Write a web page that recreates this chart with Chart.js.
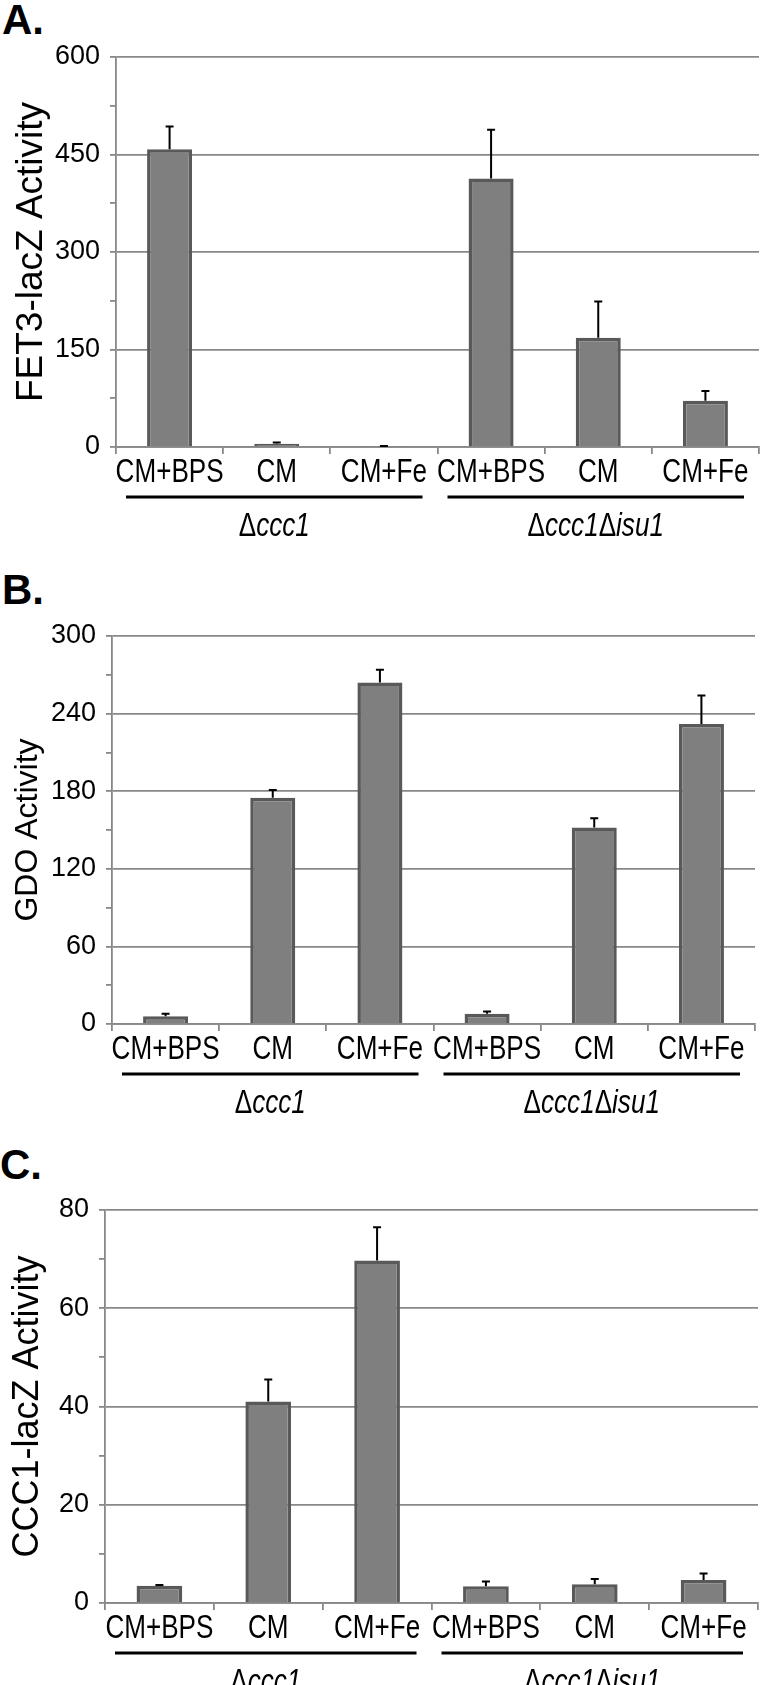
<!DOCTYPE html>
<html>
<head>
<meta charset="utf-8">
<script src="https://cdn.jsdelivr.net/npm/chart.js@4.4.1/dist/chart.umd.min.js"></script>
<style>
  body { margin: 0; background: #fff; }
  #wrap { position: relative; width: 760px; height: 1685px; overflow: hidden; }
  canvas { position: absolute; left: 0; }
  .letter { position: absolute; font: bold 42px "Liberation Sans", Arial, sans-serif; line-height: 1; color: #000; }
</style>
</head>
<body>
<div id="wrap">
  <div class="letter" style="left:2px; top:-1px">A.</div>
  <div class="letter" style="left:2px; top:569px">B.</div>
  <div class="letter" style="left:0px; top:1144px">C.</div>
  <canvas id="chartA" width="760" height="565" style="top:0px"></canvas>
  <canvas id="chartB" width="760" height="575" style="top:565px"></canvas>
  <canvas id="chartC" width="760" height="545" style="top:1140px"></canvas>
</div>
<script>
// categories and strain groups (3 conditions each)
const categories = ['CM+BPS', 'CM', 'CM+Fe', 'CM+BPS', 'CM', 'CM+Fe'];
const groupLabels = ['Δccc1', 'Δccc1Δisu1'];

// A. FET3-lacZ
const fet3Values = [458, 5, 1, 413, 168, 71];
const fet3Errors = [35, 2, 0.5, 75, 56, 15];
// B. GDO
const gdoValues = [6, 175, 264, 8, 152, 232];
const gdoErrors = [2, 6, 10, 1.6, 7, 22];
// C. CCC1-lacZ
const ccc1Values = [3.5, 41, 69.7, 3.4, 3.8, 4.7];
const ccc1Errors = [0.15, 4.5, 6.8, 1, 1.1, 1.3];

const SANS = '"Liberation Sans", Arial, sans-serif';
const SQUEEZE = 0.79; // labels in the figure are condensed

// error bars on top of each bar
const errorBars = {
  id: 'errorBars',
  afterDatasetsDraw(chart, args, opts) {
    const ctx = chart.ctx;
    const y = chart.scales.y;
    const meta = chart.getDatasetMeta(0);
    const vals = chart.data.datasets[0].data;
    ctx.save();
    ctx.strokeStyle = '#000';
    ctx.lineWidth = 2;
    meta.data.forEach((bar, i) => {
      const top = y.getPixelForValue(vals[i] + opts.errors[i]);
      const base = y.getPixelForValue(vals[i]);
      ctx.beginPath();
      ctx.moveTo(bar.x, base);
      ctx.lineTo(bar.x, top);
      ctx.moveTo(bar.x - 4, top);
      ctx.lineTo(bar.x + 4, top);
      ctx.stroke();
    });
    ctx.restore();
  }
};

function squeezedText(ctx, txt, x, y, font) {
  ctx.save();
  ctx.font = font;
  ctx.translate(x, y);
  ctx.scale(SQUEEZE, 1);
  ctx.fillText(txt, 0, 0);
  ctx.restore();
}

// condition labels, group underline and strain label (Δ upright, rest italic)
const groupPlugin = {
  id: 'groupLabels',
  afterDraw(chart) {
    const ctx = chart.ctx;
    const x = chart.scales.x;
    const base = chart.chartArea.bottom;
    const catW = x.getPixelForValue(1) - x.getPixelForValue(0);
    ctx.save();
    ctx.fillStyle = '#000';
    ctx.textBaseline = 'middle';
    ctx.textAlign = 'center';
    chart.data.labels.forEach((lab, i) => {
      squeezedText(ctx, lab, x.getPixelForValue(i), base + 26, '33px ' + SANS);
    });
    groupLabels.forEach((lab, g) => {
      const left = x.getPixelForValue(g * 3) - catW / 2;
      const right = x.getPixelForValue(g * 3 + 2) + catW / 2;
      ctx.strokeStyle = '#000';
      ctx.lineWidth = 3;
      ctx.beginPath();
      ctx.moveTo(left + 10, base + 50);
      ctx.lineTo(right - 15, base + 50);
      ctx.stroke();
      const parts = [];
      lab.split(/(Δ)/).filter(s => s).forEach(s => parts.push({ t: s, f: (s !== 'Δ' ? 'italic ' : '') + '33px ' + SANS }));
      let total = 0;
      parts.forEach(p => {
        ctx.font = p.f;
        p.w = ctx.measureText(p.t).width * SQUEEZE;
        total += p.w;
      });
      let cx = (left + 10 + right - 15) / 2 - total / 2;
      ctx.textAlign = 'left';
      parts.forEach(p => {
        squeezedText(ctx, p.t, cx, base + 80, p.f);
        cx += p.w;
      });
      ctx.textAlign = 'center';
    });
    ctx.restore();
  }
};

function makeChart(id, values, errors, opt) {
  return new Chart(document.getElementById(id), {
    type: 'bar',
    data: {
      labels: categories,
      datasets: [{
        data: values,
        backgroundColor: '#7f7f7f',
        borderColor: '#595959',
        borderWidth: 3.5,
        borderSkipped: 'bottom',
        categoryPercentage: 1,
        barPercentage: 0.42
      }]
    },
    options: {
      responsive: false,
      animation: false,
      devicePixelRatio: 1,
      layout: { padding: { top: opt.top, right: 760 - opt.right, left: 0, bottom: 0 } },
      plugins: {
        legend: { display: false },
        tooltip: { enabled: false },
        errorBars: { errors: errors }
      },
      scales: {
        x: {
          afterFit: s => { s.height = opt.xh; },
          grid: { drawOnChartArea: false, color: '#888', tickLength: 7, lineWidth: 1.8, offset: true },
          border: { color: '#888', width: 1.8 },
          ticks: { color: 'rgba(0,0,0,0)', font: { family: SANS, size: 20 }, padding: 1, autoSkip: false, maxRotation: 0 }
        },
        y: {
          min: 0,
          max: opt.max,
          afterFit: s => { s.width = opt.left; },
          grid: {
            color: c => (c.tick && Math.round(c.tick.value) % opt.major === 0) ? '#888' : 'rgba(0,0,0,0)',
            tickColor: '#888',
            tickLength: 6,
            lineWidth: 1.8
          },
          border: { color: '#888', width: 1.8 },
          ticks: {
            stepSize: opt.minor,
            color: '#000',
            padding: 10,
            font: { family: SANS, size: 27 },
            callback: v => (Math.round(v) % opt.major === 0 ? v : '')
          },
          title: {
            display: true,
            text: opt.title,
            color: '#000',
            font: { family: SANS, size: opt.titleSize },
            padding: { top: opt.titlePad, bottom: 0 }
          }
        }
      }
    },
    plugins: [errorBars, groupPlugin]
  });
}

makeChart('chartA', fet3Values, fet3Errors, {
  top: 57, right: 759, left: 116, xh: 118, max: 600, minor: 75, major: 150,
  title: 'FET3-lacZ Activity', titleSize: 37, titlePad: 10
});
makeChart('chartB', gdoValues, gdoErrors, {
  top: 71, right: 755, left: 112, xh: 116, max: 300, minor: 30, major: 60,
  title: 'GDO Activity', titleSize: 32, titlePad: 9
});
makeChart('chartC', ccc1Values, ccc1Errors, {
  top: 70, right: 758, left: 105, xh: 82, max: 80, minor: 10, major: 20,
  title: 'CCC1-lacZ Activity', titleSize: 36, titlePad: 6
});
</script>
</body>
</html>
